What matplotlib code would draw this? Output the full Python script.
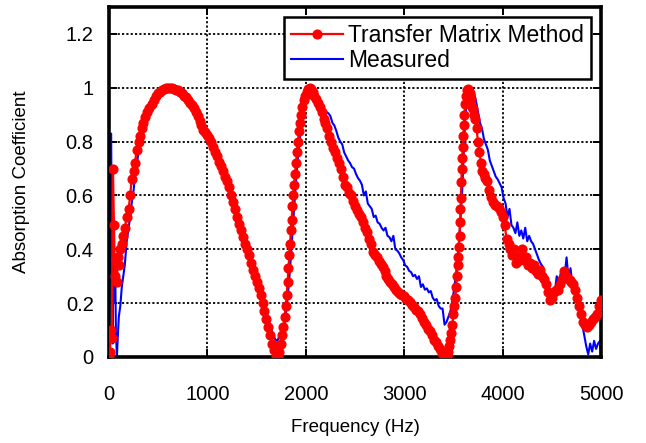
import matplotlib
matplotlib.use("Agg")
import matplotlib.pyplot as plt

plt.rcParams['font.family'] = ['Liberation Sans', 'DejaVu Sans']

# Transfer Matrix Method (red, markers)
tmm_freq = [0, 10, 20, 30, 40, 50, 60, 70, 80, 90, 100, 115, 130, 145, 160, 180, 200, 215, 230, 250,
            265, 280, 300, 315, 335, 350, 370, 385, 410, 435, 460, 480, 500, 520, 540, 560, 580, 600, 620, 640,
            660, 680, 700, 720, 740, 760, 780, 800, 820, 840, 860, 880, 900, 920, 940, 960, 980, 1000, 1020, 1040,
            1060, 1080, 1100, 1120, 1140, 1160, 1180, 1200, 1220, 1240, 1260, 1280, 1300, 1320, 1340, 1360, 1380, 1400, 1420, 1440,
            1460, 1480, 1500, 1520, 1540, 1560, 1580, 1600, 1620, 1640, 1660, 1680, 1700, 1715, 1730, 1745, 1760, 1772, 1784, 1796,
            1806, 1815, 1824, 1832, 1840, 1848, 1856, 1864, 1872, 1880, 1890, 1900, 1910, 1920, 1930, 1940, 1952, 1965, 1980, 1995,
            2010, 2025, 2040, 2055, 2070, 2085, 2100, 2120, 2140, 2160, 2180, 2200, 2220, 2240, 2260, 2280, 2300, 2320, 2340, 2360,
            2380, 2400, 2420, 2440, 2460, 2480, 2500, 2520, 2540, 2560, 2580, 2600, 2620, 2640, 2660, 2680, 2700, 2720, 2740, 2760,
            2780, 2800, 2820, 2840, 2860, 2880, 2900, 2920, 2940, 2960, 2980, 3000, 3020, 3040, 3060, 3080, 3100, 3120, 3140, 3160,
            3180, 3200, 3220, 3240, 3260, 3280, 3300, 3320, 3340, 3360, 3380, 3400, 3415, 3430, 3445, 3458, 3470, 3480, 3490, 3500,
            3510, 3520, 3528, 3535, 3542, 3550, 3556, 3562, 3568, 3572, 3576, 3580, 3585, 3590, 3595, 3600, 3606, 3612, 3618, 3625,
            3635, 3645, 3655, 3665, 3675, 3685, 3695, 3705, 3720, 3735, 3750, 3765, 3780, 3795, 3810, 3825, 3840, 3860, 3880, 3900,
            3920, 3940, 3960, 3980, 4000, 4020, 4040, 4060, 4080, 4100, 4120, 4140, 4160, 4180, 4200, 4220, 4240, 4260, 4280, 4300,
            4320, 4340, 4360, 4380, 4400, 4420, 4440, 4460, 4480, 4500, 4520, 4540, 4560, 4580, 4600, 4620, 4640, 4660, 4680, 4700,
            4720, 4740, 4760, 4780, 4800, 4820, 4840, 4860, 4880, 4900, 4920, 4940, 4960, 4980, 5000]
tmm_abs = [0.00, 0.02, 0.10, 0.07, 0.70, 0.49, 0.30, 0.36, 0.28, 0.37, 0.34, 0.40, 0.42, 0.45, 0.48, 0.52, 0.55, 0.60, 0.66, 0.69,
           0.72, 0.77, 0.80, 0.82, 0.85, 0.87, 0.89, 0.91, 0.925, 0.94, 0.955, 0.97, 0.98, 0.985, 0.99, 0.995, 1.0, 1.0, 1.0, 1.0,
           0.995, 0.99, 0.99, 0.985, 0.98, 0.97, 0.965, 0.955, 0.945, 0.935, 0.925, 0.91, 0.895, 0.875, 0.86, 0.845, 0.835, 0.825, 0.815, 0.80,
           0.78, 0.76, 0.745, 0.725, 0.71, 0.69, 0.67, 0.655, 0.63, 0.60, 0.575, 0.55, 0.52, 0.495, 0.47, 0.445, 0.42, 0.40, 0.38, 0.35,
           0.325, 0.30, 0.28, 0.255, 0.23, 0.20, 0.17, 0.14, 0.11, 0.08, 0.05, 0.025, 0.005, 0.0, 0.02, 0.05, 0.08, 0.11, 0.15, 0.19,
           0.23, 0.28, 0.33, 0.38, 0.42, 0.47, 0.51, 0.56, 0.60, 0.64, 0.68, 0.72, 0.76, 0.80, 0.84, 0.87, 0.90, 0.93, 0.955, 0.97,
           0.985, 0.995, 1.0, 0.995, 0.985, 0.97, 0.96, 0.945, 0.93, 0.91, 0.885, 0.87, 0.85, 0.82, 0.80, 0.775, 0.76, 0.74, 0.72, 0.70,
           0.67, 0.64, 0.63, 0.61, 0.60, 0.58, 0.56, 0.545, 0.53, 0.52, 0.50, 0.48, 0.465, 0.44, 0.42, 0.39, 0.38, 0.37, 0.355, 0.345,
           0.335, 0.32, 0.30, 0.29, 0.28, 0.27, 0.26, 0.25, 0.24, 0.235, 0.23, 0.225, 0.215, 0.21, 0.205, 0.195, 0.185, 0.175, 0.17, 0.16,
           0.145, 0.13, 0.12, 0.105, 0.095, 0.08, 0.065, 0.055, 0.04, 0.03, 0.015, 0.005, 0.0, 0.005, 0.02, 0.04, 0.065, 0.09, 0.12, 0.16,
           0.19, 0.22, 0.26, 0.30, 0.34, 0.37, 0.41, 0.45, 0.50, 0.55, 0.59, 0.65, 0.70, 0.74, 0.78, 0.82, 0.86, 0.90, 0.94, 0.97,
           0.99, 0.995, 0.985, 0.98, 0.96, 0.93, 0.92, 0.90, 0.885, 0.85, 0.80, 0.76, 0.72, 0.69, 0.68, 0.665, 0.655, 0.62, 0.595, 0.575,
           0.565, 0.56, 0.555, 0.54, 0.52, 0.49, 0.44, 0.42, 0.40, 0.38, 0.40, 0.35, 0.37, 0.36, 0.40, 0.36, 0.37, 0.34, 0.35, 0.33,
           0.34, 0.32, 0.31, 0.325, 0.30, 0.29, 0.27, 0.24, 0.21, 0.22, 0.24, 0.25, 0.25, 0.27, 0.29, 0.32, 0.30, 0.29, 0.285, 0.28,
           0.27, 0.25, 0.22, 0.19, 0.16, 0.13, 0.12, 0.11, 0.12, 0.13, 0.14, 0.15, 0.16, 0.19, 0.21]

# Measured (blue line)
meas_freq = [0, 22, 30, 38, 46, 54, 62, 70, 80, 90, 100, 115, 130, 145, 160, 180, 200, 215, 230, 250,
             265, 280, 300, 315, 335, 350, 380, 410, 440, 470, 500, 540, 580, 620, 660, 700, 740, 780, 820, 860,
             900, 940, 980, 1020, 1060, 1100, 1140, 1180, 1220, 1260, 1300, 1340, 1380, 1420, 1460, 1500, 1540, 1580, 1620, 1660,
             1690, 1710, 1730, 1750, 1770, 1790, 1810, 1830, 1850, 1870, 1890, 1910, 1930, 1950, 1970, 1990, 2010, 2030, 2050, 2070,
             2090, 2110, 2130, 2150, 2170, 2190, 2210, 2230, 2250, 2270, 2290, 2310, 2330, 2350, 2370, 2390, 2410, 2430, 2450, 2470,
             2490, 2510, 2530, 2550, 2570, 2590, 2610, 2630, 2650, 2670, 2690, 2710, 2730, 2750, 2770, 2790, 2810, 2830, 2850, 2870,
             2890, 2910, 2930, 2950, 2970, 2990, 3010, 3030, 3050, 3070, 3090, 3110, 3130, 3150, 3170, 3190, 3210, 3230, 3250, 3270,
             3290, 3310, 3330, 3350, 3370, 3390, 3410, 3430, 3450, 3470, 3490, 3510, 3530, 3550, 3570, 3590, 3605, 3620, 3635, 3650,
             3670, 3690, 3710, 3730, 3750, 3770, 3790, 3810, 3830, 3850, 3870, 3890, 3910, 3930, 3950, 3970, 3990, 4010, 4030, 4050,
             4070, 4090, 4110, 4130, 4150, 4170, 4190, 4210, 4230, 4250, 4270, 4290, 4310, 4330, 4350, 4370, 4390, 4410, 4430, 4450,
             4470, 4490, 4510, 4530, 4550, 4570, 4590, 4610, 4630, 4650, 4670, 4690, 4710, 4730, 4750, 4770, 4790, 4810, 4830, 4850,
             4870, 4890, 4910, 4930, 4950, 4970, 4990, 5000]
meas_abs = [0.00, 0.83, 0.30, 0.05, 0.50, 0.20, 0.36, 0.10, 0.00, 0.08, 0.15, 0.19, 0.26, 0.30, 0.34, 0.43, 0.48, 0.52, 0.57, 0.62,
            0.67, 0.71, 0.76, 0.80, 0.84, 0.86, 0.90, 0.925, 0.945, 0.965, 0.975, 0.99, 1.0, 1.0, 0.995, 0.99, 0.98, 0.965, 0.95, 0.93,
            0.90, 0.865, 0.84, 0.82, 0.785, 0.75, 0.715, 0.68, 0.64, 0.585, 0.53, 0.48, 0.435, 0.39, 0.345, 0.30, 0.255, 0.20, 0.14, 0.09,
            0.065, 0.06, 0.075, 0.08, 0.09, 0.14, 0.20, 0.28, 0.38, 0.49, 0.60, 0.70, 0.78, 0.84, 0.90, 0.94, 0.97, 0.99, 1.0, 0.99,
            0.98, 0.975, 0.96, 0.945, 0.93, 0.92, 0.91, 0.905, 0.895, 0.87, 0.86, 0.84, 0.815, 0.80, 0.79, 0.76, 0.745, 0.73, 0.72, 0.705,
            0.70, 0.68, 0.665, 0.655, 0.64, 0.60, 0.615, 0.57, 0.56, 0.55, 0.52, 0.525, 0.50, 0.495, 0.48, 0.47, 0.48, 0.45, 0.445, 0.43,
            0.45, 0.40, 0.395, 0.385, 0.37, 0.36, 0.34, 0.335, 0.32, 0.315, 0.30, 0.305, 0.29, 0.30, 0.26, 0.27, 0.25, 0.255, 0.24, 0.245,
            0.22, 0.21, 0.215, 0.19, 0.18, 0.18, 0.12, 0.13, 0.15, 0.17, 0.21, 0.26, 0.32, 0.40, 0.50, 0.62, 0.76, 0.88, 0.95, 0.99,
            0.995, 1.0, 0.98, 0.95, 0.91, 0.87, 0.85, 0.81, 0.79, 0.77, 0.73, 0.71, 0.69, 0.67, 0.66, 0.645, 0.63, 0.59, 0.57, 0.52,
            0.55, 0.49, 0.48, 0.46, 0.50, 0.45, 0.47, 0.44, 0.48, 0.43, 0.45, 0.43, 0.42, 0.40, 0.38, 0.36, 0.345, 0.335, 0.30, 0.28,
            0.23, 0.21, 0.25, 0.24, 0.30, 0.27, 0.31, 0.28, 0.30, 0.37, 0.29, 0.33, 0.27, 0.24, 0.22, 0.20, 0.19, 0.12, 0.08, 0.04,
            0.01, 0.05, 0.02, 0.06, 0.03, 0.05, 0.06, 0.00]

x_ticks = [0, 1000, 2000, 3000, 4000, 5000]
y_ticks = [0, 0.2, 0.4, 0.6, 0.8, 1.0, 1.2]
y_tick_labels = ['0', '0.2', '0.4', '0.6', '0.8', '1', '1.2']

fig = plt.figure(figsize=(6.46, 4.43), dpi=100)
ax = fig.add_axes([109/646, 1 - 357/443, (601-109)/646, (357-7)/443])

ax.plot(meas_freq, meas_abs, color='#0000ff', lw=1.5, label='Measured', zorder=2)
ax.plot(tmm_freq, tmm_abs, color='#ff0000', lw=1.6, marker='o', markersize=6.3,
        markeredgecolor='#ff0000', markerfacecolor='#ff0000', label='Transfer Matrix Method', zorder=3)

ax.set_xlim(0, 5000)
ax.set_ylim(0, 1.3)
ax.set_xticks(x_ticks)
ax.set_yticks(y_ticks)
ax.set_yticklabels(y_tick_labels)
ax.grid(True, color='black', linestyle=(0, (1.2, 1.2)), linewidth=1.3)
ax.set_axisbelow(True)
for s in ax.spines.values():
    s.set_linewidth(2.6)
ax.tick_params(direction='in', length=6, width=1.4, top=True, right=True, labelsize=14.5, colors='black')
ax.tick_params(axis='x', pad=20)
ax.tick_params(axis='y', pad=11)

ax.set_xlabel('Frequency (Hz)', fontsize=13.5, va='center')
ax.set_ylabel('Absorption Coefficient', fontsize=13.5, va='center')
ax.xaxis.set_label_coords(0.5, (357 - 428) / 350)
ax.yaxis.set_label_coords((22 - 109) / 492, 0.5)

h, l = ax.get_legend_handles_labels()
leg = ax.legend(h[::-1], l[::-1], loc='upper right', fontsize=16.5, frameon=True, fancybox=False,
                edgecolor='black', framealpha=1, borderaxespad=0.45, handlelength=2.3,
                handletextpad=0.2, labelspacing=0.1, borderpad=0.3)
leg.get_frame().set_linewidth(1.8)

fig.savefig('out.png', dpi=100)
